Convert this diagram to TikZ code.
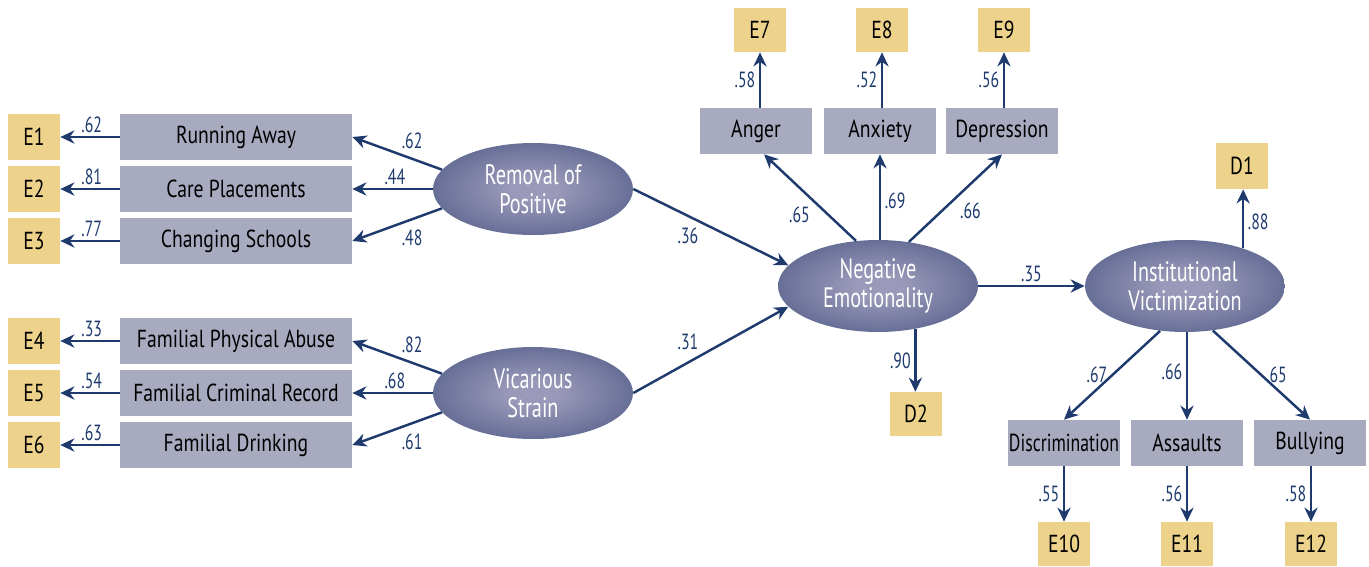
\documentclass[tikz,border=0pt]{standalone}
\usepackage{fontspec}
\setmainfont[FakeStretch=0.8]{PT Sans}
\newfontfamily\narrowfont[FakeStretch=0.72]{PT Sans}
\usetikzlibrary{shapes.geometric,arrows.meta}
\definecolor{errfill}{HTML}{EDD28B}
\definecolor{obsfill}{HTML}{A8AAC0}
\definecolor{pathblue}{HTML}{1F3B6E}
\definecolor{latouter}{HTML}{4A5682}
\definecolor{latinner}{HTML}{9A99B9}
\pgfdeclareradialshading{latshade}{\pgfpoint{0bp}{0bp}}{color(0bp)=(latinner); color(6bp)=(latinner); color(36bp)=(latouter); color(50bp)=(latouter)}
\tikzset{
    errbox/.style={fill=errfill, minimum width=1.04cm, minimum height=0.92cm, inner sep=0pt, font=\fontsize{14}{16}\selectfont},
    obsbox/.style={fill=obsfill, minimum width=4.64cm, minimum height=0.92cm, inner sep=0pt, font=\fontsize{14}{16}\selectfont},
    smallobs/.style={obsbox, minimum width=2.24cm},
    latent/.style={ellipse, shading=latshade, minimum width=4cm, minimum height=1.84cm, inner sep=0pt, text=white, align=center, font=\narrowfont\fontsize{16}{16.2}\selectfont},
    coef/.style={draw=pathblue, line width=1.4pt, -{Stealth[length=8pt,width=7.5pt]}},
    lab/.style={text=pathblue, font=\narrowfont\fontsize{12.5}{13}\selectfont, inner sep=2pt}
}
\begin{document}
\begin{tikzpicture}[x=0.02cm, y=-0.02cm]
                    \useasboundingbox (0,0) rectangle (1369,566);
                    \foreach \n/\e/\y/\txt in {RA/E1/137/Running Away, CP/E2/189/Care Placements, CS/E3/241/Changing Schools, FPA/E4/341/Familial Physical Abuse, FCR/E5/393/Familial Criminal Record, FD/E6/445/Familial Drinking}
                    {
                        \node[obsbox] (\n) at (236,\y) {\txt};
                        \node[errbox] (\e) at (34,\y) {\e};
                    }
                    \foreach \n/\e/\v in {RA/E1/.62, CP/E2/.81, CS/E3/.77, FPA/E4/.33, FCR/E5/.54, FD/E6/.63}
                    {
                        \draw[coef] (\n) -- node[lab, above, pos=.47] {\v} (\e);
                    }
                    \node[latent] (RP) at (533,189) {Removal of\\Positive};
                    \node[latent] (VS) at (533,393) {Vicarious\\Strain};
                    \node[latent] (NE) at (878,286) {Negative\\Emotionality};
                    \node[latent] (IV) at (1185,286) {Institutional\\Victimization};
                    \draw[coef] (RP.168) -- node[lab, above right, pos=.5] {.62} (RA.east);
                    \draw[coef] (RP.west) -- node[lab, above, pos=.47] {.44} (RP.west -| CP.east);
                    \draw[coef] (RP.192) -- node[lab, below right, pos=.5] {.48} (CS.east);
                    \draw[coef] (VS.168) -- node[lab, above right, pos=.5] {.82} (FPA.east);
                    \draw[coef] (VS.west) -- node[lab, above, pos=.47] {.68} (VS.west -| FCR.east);
                    \draw[coef] (VS.192) -- node[lab, below right, pos=.5] {.61} (FD.east);
                    \draw[coef] (RP.east) -- node[lab, below left, pos=.45] {.36} (NE.167);
                    \draw[coef] (VS.east) -- node[lab, above left, pos=.45] {.31} (NE.193);
                    \draw[coef] (NE.east) -- node[lab, above, pos=.5] {.35} (IV.west);
                    \node[smallobs] (Anger) at (756,131) {Anger};
                    \node[smallobs] (Anxiety) at (880,131) {Anxiety};
                    \node[smallobs] (Depression) at (1002,131) {Depression};
                    \node[errbox, minimum height=0.88cm] (E7) at (760,30) {E7};
                    \node[errbox, minimum height=0.88cm] (E8) at (882,30) {E8};
                    \node[errbox, minimum height=0.88cm] (E9) at (1004,30) {E9};
                    \draw[coef] (NE.116) -- node[lab, below left, pos=.45] {.65} (Anger.-71);
                    \draw[coef] (Anxiety.south |- NE.north) -- node[lab, right, pos=.45] {.69} (Anxiety.south);
                    \draw[coef] (NE.55) -- node[lab, below right, pos=.5] {.66} (Depression.south);
                    \draw[coef] (E7.south |- Anger.north) -- node[lab, left] {.58} (E7.south);
                    \draw[coef] (E8.south |- Anxiety.north) -- node[lab, left] {.52} (E8.south);
                    \draw[coef] (E9.south |- Depression.north) -- node[lab, left] {.56} (E9.south);
                    \node[errbox] (D1) at (1242,166) {D1};
                    \node[errbox, minimum height=0.88cm] (D2) at (916,414) {D2};
                    \draw[coef] (IV.33) -- node[lab, right, pos=.45] {.88} (IV.33 |- D1.south);
                    \draw[coef] (NE.-49) -- node[lab, left, pos=.5] {.90} (NE.-49 |- D2.north);
                    \node[smallobs, font=\narrowfont\fontsize{14}{16}\selectfont] (Disc) at (1064,443) {Discrimination};
                    \node[smallobs] (Ass) at (1187,443) {Assaults};
                    \node[smallobs] (Bul) at (1310,443) {Bullying};
                    \node[errbox, minimum height=0.88cm] (E10) at (1064,544) {E10};
                    \node[errbox, minimum height=0.88cm] (E11) at (1187,544) {E11};
                    \node[errbox, minimum height=0.88cm] (E12) at (1311,544) {E12};
                    \draw[coef] (IV.-119) -- node[lab, left, pos=.5] {.67} (Disc.north);
                    \draw[coef] (Ass.north |- IV.south) -- node[lab, left, pos=.45] {.66} (Ass.north);
                    \draw[coef] (IV.-58) -- node[lab, right, pos=.5] {.65} (Bul.north);
                    \draw[coef] (Disc.south) -- node[lab, left] {.55} (E10.north);
                    \draw[coef] (Ass.south) -- node[lab, left] {.56} (E11.north);
                    \draw[coef] (Bul.south -| E12.north) -- node[lab, left] {.58} (E12.north);
                \end{tikzpicture}
\end{document}
